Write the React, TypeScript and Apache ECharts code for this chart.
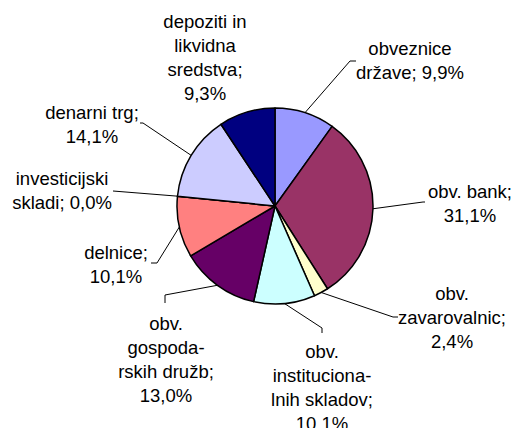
import React, { useEffect, useRef } from "react";
import * as echarts from "echarts";

// ---- data ----
const categories = [
  "obveznice države",
  "obv. bank",
  "obv. zavarovalnic",
  "obv. institucionalnih skladov",
  "obv. gospodarskih družb",
  "delnice",
  "investicijski skladi",
  "denarni trg",
  "depoziti in likvidna sredstva",
];
const shares = [9.9, 31.1, 2.4, 10.1, 13.0, 10.1, 0.0, 14.1, 9.3];
// wrapped label texts (as in the original chart)
const labelNames = [
  "obveznice\ndržave;",
  "obv. bank;",
  "obv.\nzavarovalnic;",
  "obv.\ninstituciona-\nlnih skladov;",
  "obv.\ngospoda-\nrskih družb;",
  "delnice;",
  "investicijski\nskladi;",
  "denarni trg;",
  "depoziti in\nlikvidna\nsredstva;",
];
const valueOnNewLine = [false, true, true, true, true, true, false, true, true];

// ---- styles / layout ----
const colors = [
  "#9999FF",
  "#993366",
  "#FFFFCC",
  "#CCFFFF",
  "#660066",
  "#FF8080",
  "#0066CC",
  "#CCCCFF",
  "#000080",
];
const labelAnchors: number[][] = [
  [410, 60],
  [470, 203],
  [452, 317],
  [322, 387],
  [166, 359],
  [116, 264],
  [62, 190],
  [92, 124],
  [205, 57],
];
const labelElbows: (number[][] | null)[] = [
  [[350, 61], [356, 61]],
  [[423, 202], [425, 202]],
  [[393, 317], [398, 317]],
  [[322, 328], [322, 333]],
  [[165, 295], [165, 303]],
  [[157, 263], [151, 263]],
  [[113, 191], [113, 191]],
  [[143, 123], [140, 123]],
  null,
];

const fmt = (v: number) => v.toFixed(1).replace(".", ",") + "%";

export default function App() {
  const ref = useRef<HTMLDivElement>(null);
  useEffect(() => {
    if (!ref.current) return;
    const chart = echarts.init(ref.current, undefined, { renderer: "svg" });
    const data = categories.map((name, i) => ({
      name,
      value: shares[i],
      itemStyle: { color: colors[i] },
      labelLine: { show: labelElbows[i] !== null },
      label: {
        formatter: () =>
          labelNames[i] + (valueOnNewLine[i] ? "\n" : " ") + fmt(shares[i]),
      },
    }));
    chart.setOption({
      animation: false,
      backgroundColor: "#ffffff",
      series: [
        {
          type: "pie",
          center: [275, 206],
          radius: 98,
          startAngle: 90,
          clockwise: true,
          avoidLabelOverlap: false,
          stillShowZeroSum: true,
          minShowLabelAngle: 0,
          itemStyle: { borderColor: "#000000", borderWidth: 1.5 },
          label: {
            show: true,
            position: "outside",
            color: "#000000",
            fontFamily: "'Liberation Sans', Arial, sans-serif",
            fontSize: 18.5,
            lineHeight: 24,
            align: "center",
          },
          labelLine: {
            show: true,
            lineStyle: { color: "#000000", width: 1 },
            length: 10,
            length2: 10,
          },
          emphasis: { disabled: true },
          labelLayout: (params: any) => {
            const i = params.dataIndex;
            const a = labelAnchors[i];
            const out: any = {
              x: a[0],
              y: a[1],
              align: "center",
              verticalAlign: "middle",
            };
            const e = labelElbows[i];
            if (e && params.labelLinePoints) {
              const p0 = params.labelLinePoints[0];
              out.labelLinePoints = [[p0[0], p0[1]], e[0], e[1]];
            }
            return out;
          },
          data,
        },
      ],
    });
    return () => chart.dispose();
  }, []);
  return (
    <div
      ref={ref}
      style={{ position: "fixed", left: 0, top: 0, width: 514, height: 428 }}
    />
  );
}
